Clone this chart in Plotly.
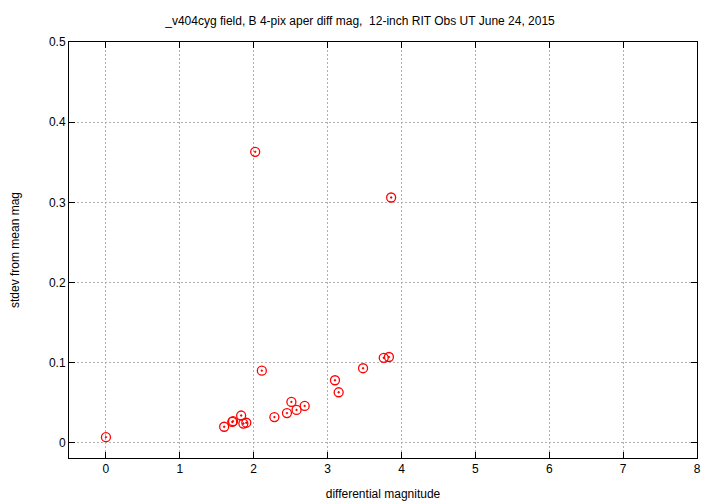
import plotly.graph_objects as go

diff_mag = [0.0, 1.60, 1.71, 1.72, 1.83, 1.86, 1.90, 2.02, 2.11, 2.28, 2.45, 2.51,
            2.58, 2.69, 3.10, 3.15, 3.48, 3.76, 3.83, 3.86]
stdev = [0.007, 0.020, 0.026, 0.027, 0.034, 0.024, 0.025, 0.363, 0.090, 0.032, 0.037,
         0.051, 0.041, 0.046, 0.078, 0.063, 0.093, 0.106, 0.107, 0.306]

x_ticks = [0, 1, 2, 3, 4, 5, 6, 7, 8]
y_ticks = [0, 0.1, 0.2, 0.3, 0.4, 0.5]
y_tick_labels = ["0", "0.1", "0.2", "0.3", "0.4", "0.5"]

title = "_v404cyg field, B 4-pix aper diff mag,  12-inch RIT Obs UT June 24, 2015"

fig = go.Figure()
fig.add_trace(go.Scatter(
    x=diff_mag, y=stdev, mode="markers",
    marker=dict(symbol="circle-open-dot", size=9, color="#ff0000", line=dict(width=1.3)),
    showlegend=False,
))

axis_common = dict(
    showline=True, linecolor="black", linewidth=1, mirror="allticks",
    ticks="inside", ticklen=6, tickcolor="black",
    showgrid=True, gridcolor="#b0b0b0", griddash="2px,2px", gridwidth=1,
    zeroline=False, tickfont=dict(size=12, color="black"), automargin=False,
)

fig.update_xaxes(range=[-0.5, 8], tickvals=x_ticks,
                 title=dict(text="differential magnitude", font=dict(size=12, color="black"), standoff=14),
                 **axis_common)
fig.update_yaxes(range=[-0.019, 0.5], tickvals=y_ticks, ticktext=y_tick_labels,
                 title=dict(text="stdev from mean mag", font=dict(size=12, color="black"), standoff=28),
                 **axis_common)

# page body has an 8px margin, so the figure is sized/offset to land on the reference layout
fig.update_layout(
    width=712, height=496,
    margin=dict(l=61, r=23, t=34, b=46),
    paper_bgcolor="white", plot_bgcolor="white",
    font=dict(family="Liberation Sans, Arial, sans-serif", size=12, color="black"),
    title=dict(text=title, x=(360 - 8) / 712, xanchor="center", y=1 - 13 / 496, yanchor="middle",
               font=dict(size=12, color="black"), automargin=False),
)

fig.write_html("out.html")
